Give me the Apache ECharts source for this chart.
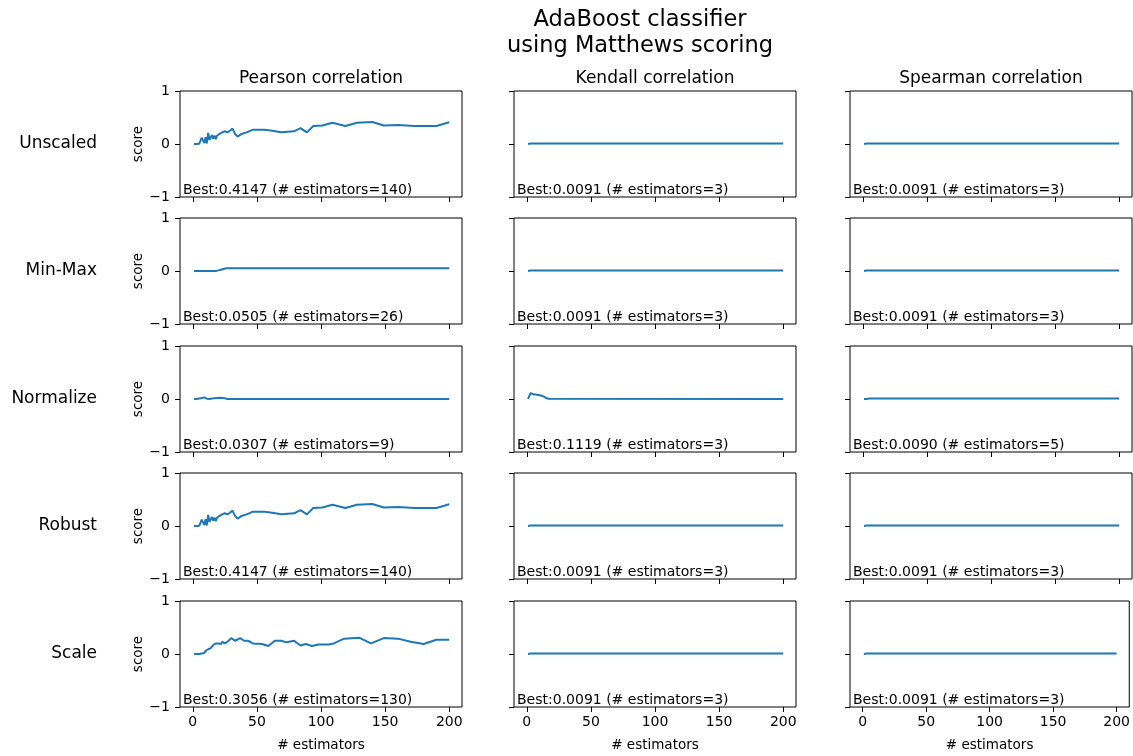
<!DOCTYPE html>
<html>
<head>
<meta charset="utf-8">
<script src="https://cdn.jsdelivr.net/npm/echarts@6/dist/echarts.min.js"></script>
<style>
html,body{margin:0;padding:0;background:#fff;}
#chart{width:1133px;height:756px;}
</style>
</head>
<body>
<div id="chart"></div>
<script>
// ---------------- data ----------------
const chartTitle = "AdaBoost classifier\nusing Matthews scoring";
const columnTitles = ["Pearson correlation", "Kendall correlation", "Spearman correlation"];
const rowLabels = ["Unscaled", "Min-Max", "Normalize", "Robust", "Scale"];
const xTicks = [0, 50, 100, 150, 200];
const yTicks = [-1, 0, 1];
const xAxisTitle = "# estimators";
const yAxisTitle = "score";

// Pearson / Unscaled (Robust looks identical)
const pearsonUnscaledX = [1,2,3,4,5,6,7,8,9,10,11,12,13,14,15,16,17,18,19,20,21,22,23,24,25,26,27,28,29,30,31,33,35,38,42,47,56,62,69,79,84,89,94,101,109,119,128,140,149,160,173,190,200];
const pearsonUnscaledY = [0,0,0,0,0.005,0.06,0.12,0.14,0.02,0.13,0.01,0.21,0.08,0.12,0.17,0.1,0.16,0.09,0.16,0.13,0.19,0.2,0.22,0.2,0.24,0.25,0.22,0.21,0.25,0.27,0.29,0.19,0.14,0.19,0.22,0.27,0.27,0.25,0.22,0.24,0.3,0.22,0.34,0.35,0.4,0.34,0.4,0.4147,0.35,0.36,0.34,0.34,0.41];
const pearsonRobustX = [1,2,3,4,5,6,7,8,9,10,11,12,13,14,15,16,17,18,19,20,21,22,23,24,25,26,27,28,29,30,31,33,35,38,42,47,56,62,69,79,84,89,94,101,109,119,128,140,149,160,173,190,200];
const pearsonRobustY = [0,0,0,0,0.005,0.06,0.12,0.14,0.02,0.13,0.01,0.21,0.08,0.12,0.17,0.1,0.16,0.09,0.16,0.13,0.19,0.2,0.22,0.2,0.24,0.25,0.22,0.21,0.25,0.27,0.29,0.19,0.14,0.19,0.22,0.27,0.27,0.25,0.22,0.24,0.3,0.22,0.34,0.35,0.4,0.34,0.4,0.4147,0.35,0.36,0.34,0.34,0.41];
// Pearson / Min-Max
const pearsonMinMaxX = [1,18,20,22,24,26,200];
const pearsonMinMaxY = [0,0,0.012,0.025,0.038,0.0505,0.0505];
// Pearson / Normalize
const pearsonNormalizeX = [1,2,3,4,5,6,7,8,9,10,11,12,13,14,15,16,17,18,19,20,21,22,23,24,25,26,27,30,200];
const pearsonNormalizeY = [0,0,0,0,0.01,-0.005,0.02,0.01,0.0307,0,0.005,0,0,0.005,0.01,0.02,0.015,0.025,0.02,0.03,0.025,0.03,0.02,0.025,0.015,0.01,0,0,0];
// Pearson / Scale
const pearsonScaleX = [1,2,3,4,5,6,7,8,9,10,11,12,13,14,15,16,17,18,19,20,21,22,23,24,25,26,28,30,33,37,40,43,47,54,59,64,69,73,79,84,88,93,98,106,110,118,130,139,149,160,170,180,190,200];
const pearsonScaleY = [0,0,0,0,0,0.005,0.01,0.03,0.02,0.06,0.05,0.09,0.08,0.11,0.12,0.17,0.15,0.2,0.18,0.2,0.2,0.19,0.23,0.21,0.2,0.2,0.25,0.3,0.25,0.3,0.25,0.25,0.2,0.19,0.15,0.25,0.25,0.22,0.25,0.16,0.19,0.15,0.18,0.18,0.2,0.29,0.3056,0.2,0.3,0.29,0.23,0.19,0.27,0.27];
// Kendall / Spearman flat curves
const flatX = [1,2,3,200];
const flatY = [0,0,0.0091,0.0091];
const kendallNormalizeX = [1,2,3,4,5,6,7,8,9,10,11,12,13,14,15,16,17,18,200];
const kendallNormalizeY = [0,0.06,0.1119,0.08,0.09,0.07,0.085,0.065,0.075,0.06,0.065,0.05,0.05,0.03,0.02,0.01,0.005,0,0];
const spearmanNormalizeX = [1,2,3,4,5,200];
const spearmanNormalizeY = [0,0,0,0,0.009,0.009];

// best labels [row][col]
const bestScores = [
  ["0.4147","0.0091","0.0091"],
  ["0.0505","0.0091","0.0091"],
  ["0.0307","0.1119","0.0090"],
  ["0.4147","0.0091","0.0091"],
  ["0.3056","0.0091","0.0091"]
];
const bestEstimators = [
  [140,3,3],
  [26,3,3],
  [9,3,5],
  [140,3,3],
  [130,3,3]
];

const panels = [
  [[pearsonUnscaledX,pearsonUnscaledY],[flatX,flatY],[flatX,flatY]],
  [[pearsonMinMaxX,pearsonMinMaxY],[flatX,flatY],[flatX,flatY]],
  [[pearsonNormalizeX,pearsonNormalizeY],[kendallNormalizeX,kendallNormalizeY],[spearmanNormalizeX,spearmanNormalizeY]],
  [[pearsonRobustX,pearsonRobustY],[flatX,flatY],[flatX,flatY]],
  [[pearsonScaleX,pearsonScaleY],[flatX,flatY],[flatX,flatY]]
];

// ---------------- layout ----------------
const FONT = "DejaVu Sans";
const colLeft = [180, 514, 850];
const colWidth = 282;
const rowTop = [91, 218, 346, 473, 601];
const rowHeight = 106;

const grids = [], xAxes = [], yAxes = [], series = [], graphics = [];
const minus = v => String(v).replace('-', '\u2212');

for (let r = 0; r < 5; r++) {
  for (let c = 0; c < 3; c++) {
    const idx = grids.length;
    grids.push({
      left: colLeft[c], top: rowTop[r], width: colWidth, height: rowHeight,
      show: true, borderColor: '#000', borderWidth: 1, backgroundColor: 'transparent',
      containLabel: false
    });
    const lastRow = r === 4;
    xAxes.push({
      type: 'value', gridIndex: idx, min: -9.95, max: 209.95, position: 'bottom',
      axisLine: {show: false, onZero: false},
      splitLine: {show: false},
      axisTick: {show: true, length: 5, customValues: xTicks, lineStyle: {color: '#000', width: 1}},
      axisLabel: {show: lastRow, customValues: xTicks, margin: 8, color: '#000', fontFamily: FONT, fontSize: 14},
      name: lastRow ? xAxisTitle : '', nameLocation: 'middle', nameGap: 31,
      nameTextStyle: {color: '#000', fontFamily: FONT, fontSize: 13.5}
    });
    yAxes.push({
      type: 'value', gridIndex: idx, min: -1, max: 1, interval: 1, position: 'left',
      axisLine: {show: false, onZero: false},
      splitLine: {show: false},
      axisTick: {show: true, length: 5, lineStyle: {color: '#000', width: 1}},
      axisLabel: {show: c === 0, margin: 10, color: '#000', fontFamily: FONT, fontSize: 14,
        formatter: v => minus(v)},
      name: c === 0 ? yAxisTitle : '', nameLocation: 'middle', nameGap: 27, nameRotate: 90,
      nameTextStyle: {color: '#000', fontFamily: FONT, fontSize: 13.5}
    });
    const [xs, ys] = panels[r][c];
    series.push({
      type: 'line', xAxisIndex: idx, yAxisIndex: idx,
      data: xs.map((x, i) => [x, ys[i]]),
      showSymbol: false, symbol: 'none',
      lineStyle: {color: '#1f77b4', width: 2},
      animation: false, silent: true
    });
    graphics.push({
      type: 'text', x: colLeft[c] + 3, y: rowTop[r] + rowHeight,
      style: {
        text: 'Best:' + bestScores[r][c] + ' (# estimators=' + bestEstimators[r][c] + ')',
        font: '14px "DejaVu Sans"', fill: '#000',
        align: 'left', verticalAlign: 'bottom', textAlign: 'left', textVerticalAlign: 'bottom'
      }
    });
  }
}

// column titles
columnTitles.forEach((t, c) => {
  graphics.push({
    type: 'text', x: colLeft[c] + colWidth / 2, y: 87,
    style: {text: t, font: '17px "DejaVu Sans"', fill: '#000',
      align: 'center', verticalAlign: 'bottom', textAlign: 'center', textVerticalAlign: 'bottom'}
  });
});
// row labels
rowLabels.forEach((t, r) => {
  graphics.push({
    type: 'text', x: 97, y: rowTop[r] + rowHeight / 2,
    style: {text: t, font: '17px "DejaVu Sans"', fill: '#000',
      align: 'right', verticalAlign: 'middle', textAlign: 'right', textVerticalAlign: 'middle'}
  });
});
// main title
graphics.push({
  type: 'text', x: 640, y: 7,
  style: {text: chartTitle, font: '22.5px "DejaVu Sans"', fill: '#000', lineHeight: 26,
    align: 'center', verticalAlign: 'top', textAlign: 'center', textVerticalAlign: 'top'}
});

const chart = echarts.init(document.getElementById('chart'), null, {renderer: 'canvas'});
chart.setOption({
  backgroundColor: '#fff',
  animation: false,
  grid: grids,
  xAxis: xAxes,
  yAxis: yAxes,
  series: series,
  graphic: graphics
});
</script>
</body>
</html>
